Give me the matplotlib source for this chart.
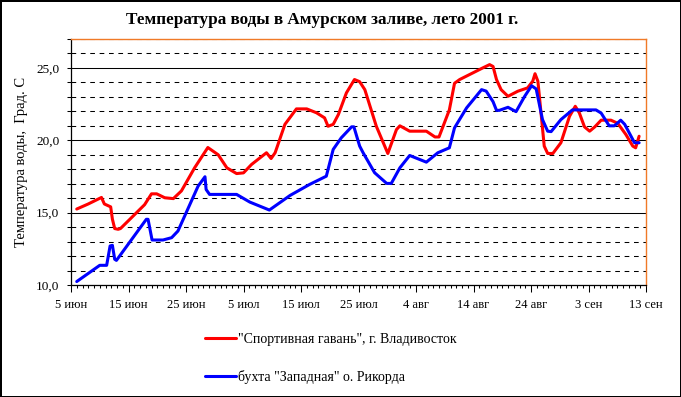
import matplotlib
matplotlib.use("Agg")
import matplotlib.pyplot as plt
from matplotlib.ticker import MultipleLocator, FixedLocator, FuncFormatter

# ---- data (day offset from 5 June 2001, water temperature, deg C) ----
red_days = [1.0, 3.0, 5.3, 5.8, 6.9, 7.2, 7.6, 8.2, 8.6, 12.8, 14.0, 14.9, 16.3, 17.8,
            19.2, 21.5, 23.8, 25.6, 27.1, 28.8, 30.0, 31.4, 34.0, 34.8, 35.5, 37.2,
            39.2, 41.0, 42.7, 44.1, 44.7, 45.6, 46.5, 47.9, 49.3, 50.2, 51.1, 53.1,
            55.1, 56.6, 57.2, 58.9, 61.8, 63.3, 64.0, 65.8, 66.7, 67.6, 69.9, 71.6,
            72.8, 73.4, 74.0, 74.8, 76.0, 77.7, 79.4, 80.3, 80.7, 81.2, 81.8, 82.3,
            82.9, 83.8, 85.2, 86.7, 87.7, 88.4, 89.3, 90.2, 91.1, 92.2, 93.9, 95.1,
            96.5, 97.7, 98.2, 98.8]
red_temp = [15.25, 15.6, 16.05, 15.6, 15.4, 14.55, 13.9, 13.85, 13.9, 15.55, 16.3, 16.3,
            16.03, 15.97, 16.5, 18.1, 19.5, 19.0, 18.1, 17.7, 17.75, 18.33, 19.14, 18.74,
            19.14, 21.1, 22.17, 22.17, 21.9, 21.55, 20.97, 21.1, 21.78, 23.28, 24.2,
            24.05, 23.5, 20.97, 19.09, 20.74, 21.0, 20.63, 20.63, 20.23, 20.23, 22.1,
            23.94, 24.2, 24.66, 25.0, 25.23, 25.1, 24.2, 23.5, 23.04, 23.39, 23.62, 24.08,
            24.6, 24.08, 21.66, 19.6, 19.09, 19.09, 19.83, 21.66, 22.35, 21.9, 20.93,
            20.63, 20.93, 21.39, 21.39, 21.17, 20.4, 19.6, 19.48, 20.28]

blue_days = [1.0, 5.0, 6.2, 6.8, 7.2, 7.6, 7.9, 13.1, 13.4, 14.1, 16.0, 17.5, 18.6, 22.1,
             23.3, 23.5, 24.1, 28.8, 31.1, 34.5, 38.1, 41.5, 44.4, 45.6, 47.0, 48.8,
             49.2, 50.2, 50.8, 52.8, 54.9, 55.7, 57.2, 58.9, 61.8, 63.8, 65.8, 66.7,
             68.8, 71.4, 72.2, 73.4, 74.0, 74.5, 76.0, 77.4, 78.9, 80.1, 80.9, 82.0,
             82.9, 83.5, 85.2, 87.2, 91.3, 92.2, 93.6, 94.5, 95.6, 96.3, 98.0, 98.8]
blue_temp = [10.24, 11.36, 11.36, 12.7, 12.74, 11.78, 11.7, 14.54, 14.54, 13.11, 13.11,
             13.27, 13.73, 16.83, 17.48, 16.6, 16.26, 16.26, 15.73, 15.18, 16.19, 16.95,
             17.52, 19.37, 20.17, 20.93, 20.93, 19.6, 19.14, 17.76, 17.02, 17.02, 18.1,
             18.95, 18.49, 19.14, 19.48, 20.86, 22.24, 23.5, 23.4, 22.67, 22.07, 22.07,
             22.28, 21.98, 23.04, 23.77, 23.55, 21.43, 20.63, 20.6, 21.43, 22.1, 22.1,
             21.88, 21.0, 21.0, 21.39, 21.1, 19.83, 19.83]

tick_days = [0, 10, 20, 30, 40, 50, 60, 70, 80, 90, 100]
tick_labels = ["5 июн", "15 июн", "25 июн", "5 июл", "15 июл", "25 июл",
               "4 авг", "14 авг", "24 авг", "3 сен", "13 сен"]
series_names = ['"Спортивная гавань", г. Владивосток', 'бухта "Западная" о. Рикорда']
title = "Температура воды в Амурском заливе, лето 2001 г."
ylabel = "Температура воды,  Град. С"

W, H = 681, 397
serif = ["Liberation Serif", "DejaVu Serif"]
plt.rcParams["font.family"] = serif

fig = plt.figure(figsize=(W / 100, H / 100), dpi=100)
fig.patch.set_facecolor("white")
fig.patch.set_edgecolor("black")
fig.patch.set_linewidth(2)

L, R, T, B = 71, 646, 39, 285
ax = fig.add_axes([L / W, 1 - B / H, (R - L) / W, (B - T) / H])

ax.plot(red_days, red_temp, color="#FF0000", lw=2.2, solid_joinstyle="round",
        solid_capstyle="round", label=series_names[0], zorder=3)
ax.plot(blue_days, blue_temp, color="#0000FF", lw=2.2, solid_joinstyle="round",
        solid_capstyle="round", label=series_names[1], zorder=3)

ax.set_xlim(0, 100)
ax.set_ylim(10, 27)

# y axis
ax.yaxis.set_major_locator(FixedLocator([10, 15, 20, 25]))
ax.yaxis.set_minor_locator(MultipleLocator(1))
ax.yaxis.set_major_formatter(FuncFormatter(lambda v, p: f"{v:.1f}".replace(".", ",")))
ax.grid(True, axis="y", which="major", color="black", lw=0.75, ls="-", zorder=1)
ax.grid(True, axis="y", which="minor", color="black", lw=0.75, ls=(0, (4.5, 4.5)), zorder=1)
ax.tick_params(axis="y", which="both", direction="out", length=3, width=0.75,
               labelsize=9.5, pad=5.5)

# x axis
ax.xaxis.set_major_locator(FixedLocator(tick_days))
ax.xaxis.set_minor_locator(MultipleLocator(1))
ax.set_xticklabels(tick_labels)
ax.tick_params(axis="x", which="major", direction="out", length=5, width=0.75,
               labelsize=9, pad=5)
ax.tick_params(axis="x", which="minor", direction="out", length=2.5, width=0.75)

for s in ("left", "bottom"):
    ax.spines[s].set_color("black")
    ax.spines[s].set_linewidth(0.9)
for s in ("top", "right"):
    ax.spines[s].set_color("#F07A28")
    ax.spines[s].set_linewidth(1.0)

ax.set_ylabel(ylabel, fontsize=10.5)
ax.yaxis.set_label_coords(-0.075, 0.5)

ax.set_title(title, fontsize=12.3, fontweight="bold", x=(322 - L) / (R - L),
             y=1 + (T - 20) / (B - T), va="center", pad=0)

handles, labels = ax.get_legend_handles_labels()
fig.legend(handles, labels, loc="upper left",
           bbox_to_anchor=(205 / W, 1 - 333 / H), frameon=False,
           fontsize=10, handlelength=2.2, handletextpad=0.2, labelspacing=1.75,
           borderpad=0, borderaxespad=0)

fig.savefig("out.png", dpi=100)
